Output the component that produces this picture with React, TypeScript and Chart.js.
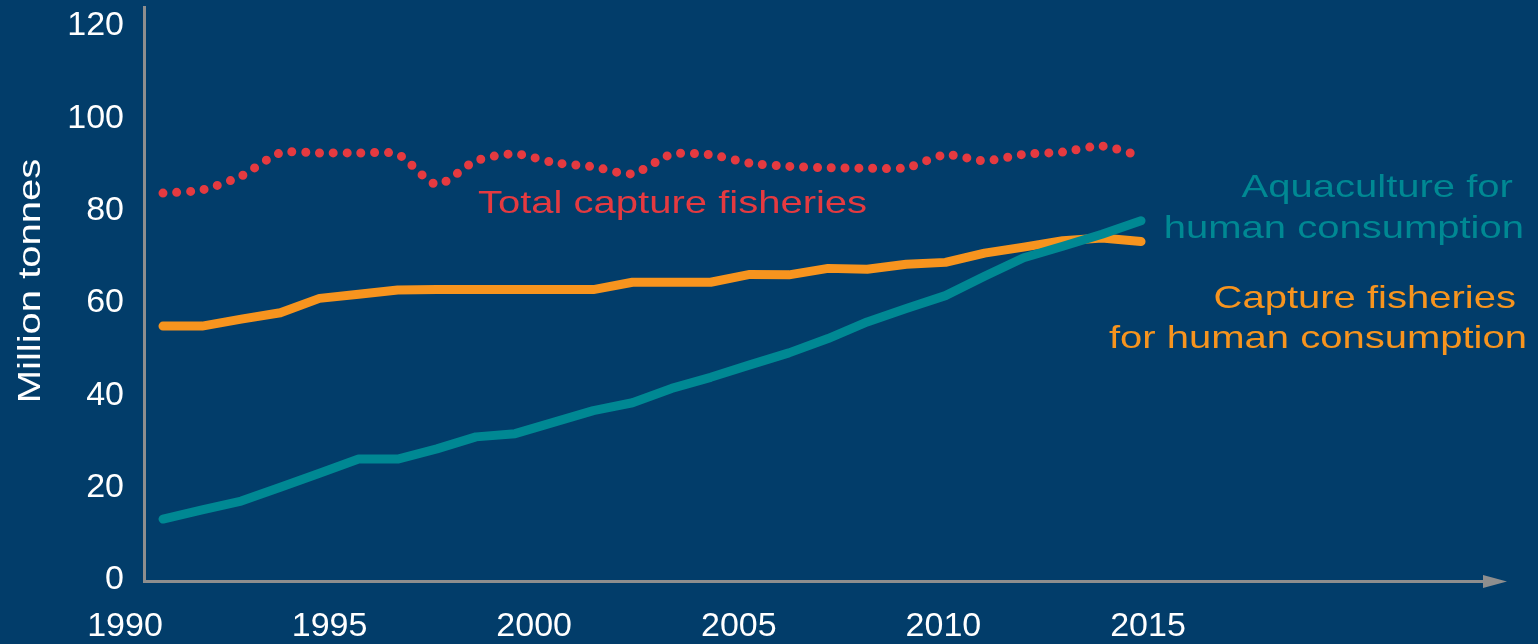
import React, { useEffect, useRef } from "react";
import { Chart, registerables } from "chart.js";

Chart.register(...registerables);

// ---- data ----
const YEARS = [
  1990, 1991, 1992, 1993, 1994, 1995, 1996, 1997, 1998, 1999, 2000, 2001, 2002,
  2003, 2004, 2005, 2006, 2007, 2008, 2009, 2010, 2011, 2012, 2013, 2014, 2015,
];
const TOTAL_CAPTURE = [
  83.8, 84.5, 87.5, 92.5, 92.5, 92.5, 92.2, 85.7, 90.8, 92.3, 90.4, 89.5, 88.0,
  92.2, 92.1, 90.3, 89.6, 89.3, 89.2, 89.3, 92.1, 90.8, 92.2, 92.7, 94.0, 91.8,
];
const CAPTURE_HUMAN = [
  55.0, 55.0, 56.5, 57.9, 61.0, 61.9, 62.8, 62.9, 62.9, 62.9, 62.9, 62.9, 64.5,
  64.5, 64.5, 66.2, 66.1, 67.5, 67.3, 68.4, 68.8, 70.8, 72.1, 73.5, 74.1, 73.3,
];
const AQUACULTURE = [
  13.2, 15.2, 17.1, 20.1, 23.1, 26.2, 26.2, 28.4, 31.0, 31.7, 34.2, 36.7, 38.4,
  41.5, 43.9, 46.6, 49.2, 52.3, 55.9, 58.8, 61.6, 65.8, 69.8, 72.3, 74.9, 77.8,
];
const X_TICK_LABELS = [1990, 1995, 2000, 2005, 2010, 2015];
const Y_TICK_STEP = 20;
const Y_MAX = 120;

const Y_TITLE = "Million tonnes";
const LABEL_TOTAL = "Total capture fisheries";
const LABEL_AQUA = ["Aquaculture for ", "human consumption"];
const LABEL_CAPT = ["Capture fisheries ", "for human consumption"];

// ---- styles ----
const BG = "#023d6a";
const AXIS = "#8e8e8e";
const RED = "#e53a40";
const ORANGE = "#f7941e";
const TEAL = "#008893";
const FONT = "Liberation Sans";
const STRETCH = 1.25;

function stretchText(
  ctx: CanvasRenderingContext2D,
  text: string,
  x: number,
  y: number,
  align: CanvasTextAlign,
  color: string
) {
  ctx.save();
  ctx.translate(x, y);
  ctx.scale(STRETCH, 1);
  ctx.font = `32px "${FONT}"`;
  ctx.fillStyle = color;
  ctx.textAlign = align;
  ctx.textBaseline = "alphabetic";
  ctx.fillText(text, 0, 0);
  ctx.restore();
}

const bgPlugin = {
  id: "bg",
  beforeDraw(chart: any) {
    const ctx = chart.ctx as CanvasRenderingContext2D;
    ctx.save();
    ctx.fillStyle = BG;
    ctx.fillRect(0, 0, chart.width, chart.height);
    ctx.restore();
  },
};

const axesPlugin = {
  id: "axesDecor",
  beforeDatasetsDraw(chart: any) {
    const ctx = chart.ctx as CanvasRenderingContext2D;
    const { left, right, bottom, top } = chart.chartArea;
    const ax = left - 0.5;
    const ay = bottom + 1.5;
    ctx.save();
    ctx.strokeStyle = AXIS;
    ctx.lineWidth = 3;
    ctx.beginPath();
    ctx.moveTo(ax, Math.max(top - 20, 4));
    ctx.lineTo(ax, ay + 1.5);
    ctx.stroke();
    ctx.beginPath();
    ctx.moveTo(ax - 1.5, ay);
    ctx.lineTo(right - 5, ay);
    ctx.stroke();
    ctx.fillStyle = AXIS;
    ctx.beginPath();
    ctx.moveTo(right - 7, ay - 6.5);
    ctx.lineTo(right + 17, ay);
    ctx.lineTo(right - 7, ay + 6.5);
    ctx.closePath();
    ctx.fill();
    ctx.restore();
  },
  afterDraw(chart: any) {
    const ctx = chart.ctx as CanvasRenderingContext2D;
    // y-axis title
    ctx.save();
    ctx.translate(40, 281);
    ctx.rotate(-Math.PI / 2);
    ctx.scale(STRETCH, 1);
    ctx.font = `32px "${FONT}"`;
    ctx.fillStyle = "#ffffff";
    ctx.textAlign = "center";
    ctx.textBaseline = "alphabetic";
    ctx.fillText(Y_TITLE, 0, 0);
    ctx.restore();
    // series annotations
    stretchText(ctx, LABEL_TOTAL, 478, 213, "left", RED);
    stretchText(ctx, LABEL_AQUA[0], 1524, 197, "right", TEAL);
    stretchText(ctx, LABEL_AQUA[1], 1524, 238, "right", TEAL);
    stretchText(ctx, LABEL_CAPT[0], 1527, 308, "right", ORANGE);
    stretchText(ctx, LABEL_CAPT[1], 1527, 348, "right", ORANGE);
  },
};

export default function App() {
  const ref = useRef<HTMLCanvasElement>(null);

  useEffect(() => {
    const canvas = ref.current;
    if (!canvas) return;
    Chart.defaults.font.family = FONT;

    const pts = (vals: number[]) => YEARS.map((y, i) => ({ x: y, y: vals[i] }));

    const chart = new Chart(canvas, {
      type: "line",
      data: {
        datasets: [
          {
            label: "Aquaculture for human consumption",
            data: pts(AQUACULTURE),
            borderColor: TEAL,
            borderWidth: 9,
            borderCapStyle: "round",
            borderJoinStyle: "round",
            pointRadius: 0,
            tension: 0,
            xAxisID: "x",
            yAxisID: "y",
          },
          {
            label: "Capture fisheries for human consumption",
            data: pts(CAPTURE_HUMAN),
            borderColor: ORANGE,
            borderWidth: 9,
            borderCapStyle: "round",
            borderJoinStyle: "round",
            pointRadius: 0,
            tension: 0,
            xAxisID: "x",
            yAxisID: "y",
          },
          {
            label: "Total capture fisheries",
            data: pts(TOTAL_CAPTURE),
            borderColor: RED,
            borderWidth: 9,
            borderDash: [0, 13.8],
            borderCapStyle: "round",
            borderJoinStyle: "round",
            pointRadius: 0,
            tension: 0.25,
            xAxisID: "x",
            yAxisID: "y",
          },
        ],
      },
      options: {
        animation: false,
        responsive: false,
        devicePixelRatio: 1,
        layout: { padding: { left: 0, right: 48, top: 26, bottom: 0 } },
        plugins: {
          legend: { display: false },
          tooltip: { enabled: false },
          title: { display: false },
        },
        scales: {
          x: {
            type: "linear",
            display: false,
            min: 1989.54,
            max: 2023.92,
          },
          xl: {
            type: "linear",
            position: "bottom",
            min: 1990.489,
            max: 2023.358,
            grid: { display: false, drawTicks: false },
            border: { display: false },
            afterBuildTicks: (axis: any) => {
              axis.ticks = X_TICK_LABELS.map((v) => ({ value: v }));
            },
            afterFit: (axis: any) => {
              axis.height = 64;
              axis.paddingLeft = 0;
              axis.paddingRight = 0;
            },
            ticks: {
              autoSkip: false,
              maxRotation: 0,
              color: "#ffffff",
              padding: 26,
              font: { size: 34, family: FONT },
              callback: (v: any) => String(v),
            },
          },
          y: {
            type: "linear",
            position: "left",
            min: 0,
            max: Y_MAX,
            grid: { display: false, drawTicks: false },
            border: { display: false },
            afterFit: (axis: any) => {
              axis.width = 145;
              axis.paddingTop = 0;
              axis.paddingBottom = 0;
            },
            ticks: {
              stepSize: Y_TICK_STEP,
              color: "#ffffff",
              padding: 21,
              font: { size: 34, family: FONT },
              callback: (v: any) => String(v),
            },
          },
        },
      },
      plugins: [bgPlugin, axesPlugin],
    } as any);

    return () => chart.destroy();
  }, []);

  return (
    <div
      style={{
        position: "fixed",
        left: 0,
        top: 0,
        width: 1538,
        height: 644,
        background: BG,
        overflow: "hidden",
      }}
    >
      <canvas
        ref={ref}
        width={1538}
        height={644}
        style={{ display: "block", width: 1538, height: 644 }}
      />
    </div>
  );
}
